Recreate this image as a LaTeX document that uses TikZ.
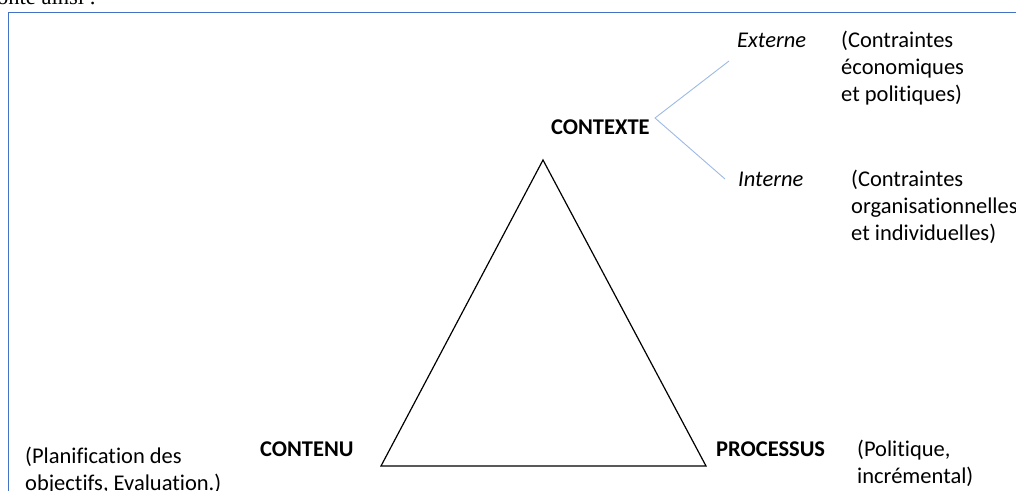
\documentclass[tikz,border=0pt]{standalone}
\usepackage{fontspec}
\setmainfont[RawFeature={-liga;-clig;-dlig}]{Carlito}
\newfontfamily\timesfont{Liberation Serif}
\definecolor{frameblue}{HTML}{4472C4}
\definecolor{forkblue}{HTML}{9DBAE4}
\begin{document}
\begin{tikzpicture}[x=1pt,y=-1pt,
  txt/.style={anchor=base west,inner sep=0pt,font=\fontsize{22.5}{27}\selectfont},
  bold/.style={txt,font=\fontsize{22.5}{27}\selectfont\bfseries},
  ital/.style={txt,font=\fontsize{22.5}{27}\selectfont\itshape},
  tri/.style={draw=black,line width=1.2pt,line join=miter},
  fork/.style={draw=forkblue,line width=0.9pt}]
\useasboundingbox (0,0) rectangle (1016,490);
\clip (0,0) rectangle (1016,490);
% partial heading text
\node[anchor=base west,inner sep=0pt,font=\timesfont\fontsize{22.5}{27}\selectfont] (head) at (-3,4) {onte ainsi :};
% frame
\draw[frameblue,line width=1.8pt] (8.5,12.5) rectangle (1040,520);
% triangle
\coordinate (A) at (543,160);
\coordinate (B) at (381,466);
\coordinate (C) at (706,466);
\draw[tri] (A) -- (B) -- (C) -- cycle;
% labels
\node[bold] (ctx) at (551,134) {CONTEXTE};
\node[bold] (cont) at (260,456) {CONTENU};
\node[bold] (proc) at (716,456) {PROCESSUS};
\node[ital] (ext) at (737,47) {Externe};
\node[ital] (int) at (738,186) {Interne};
% fork
\coordinate (fork) at (655,118);
\coordinate (extend) at (729,61);
\coordinate (intend) at (725,179);
\draw[fork] (extend) -- (fork) -- (intend);
% descriptions
\node[txt] (dext) at (841,47) {\vtop{\hbox{(Contraintes}\hbox{économiques}\hbox{et politiques)}}};
\node[txt] (dint) at (851,186) {\vtop{\hbox{(Contraintes}\hbox{organisationnelles}\hbox{et individuelles)}}};
\node[txt] (dcont) at (25,463) {\vtop{\hbox{(Planification des}\hbox{objectifs, Evaluation.)}}};
\node[txt] (dproc) at (857,456) {\vtop{\hbox{(Politique,}\hbox{incrémental)}}};
\end{tikzpicture}
\end{document}
